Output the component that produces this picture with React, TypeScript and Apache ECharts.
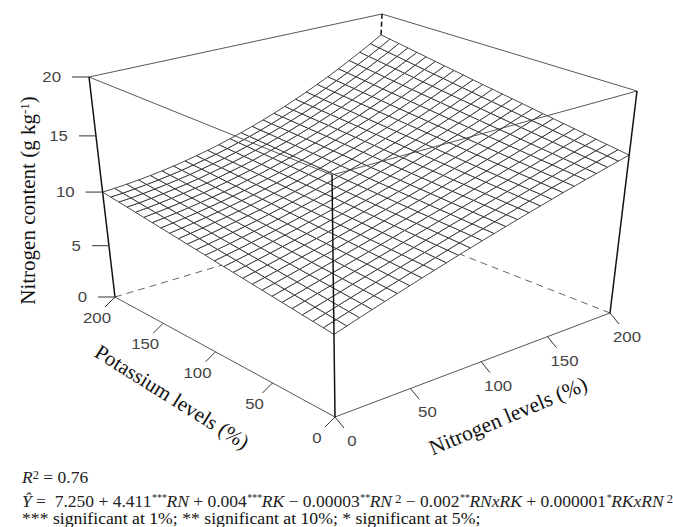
import React, { useEffect, useRef } from "react";
import * as echarts from "echarts";

const N_TICKS = [0, 50, 100, 150, 200];
const K_TICKS = [0, 50, 100, 150, 200];
const Z_TICKS = [0, 5, 10, 15, 20];
const N_LEVELS = [0,8,16,24,32,40,48,56,64,72,80,88,96,104,112,120,128,136,144,152,160,168,176,184,192,200];
const K_LEVELS = [0,8,16,24,32,40,48,56,64,72,80,88,96,104,112,120,128,136,144,152,160,168,176,184,192,200];
// Nitrogen content: one row per nitrogen level, one column per potassium level
const Z_GRID = [
[7.25,7.36,7.47,7.58,7.69,7.80,7.91,8.02,8.13,8.24,8.35,8.46,8.57,8.68,8.79,8.90,9.01,9.12,9.23,9.34,9.45,9.56,9.67,9.78,9.89,10.00],
[7.59,7.69,7.79,7.89,7.99,8.08,8.18,8.28,8.38,8.48,8.58,8.68,8.78,8.87,8.97,9.07,9.17,9.27,9.37,9.47,9.57,9.66,9.76,9.86,9.96,10.06],
[7.93,8.02,8.11,8.20,8.29,8.37,8.46,8.55,8.64,8.73,8.82,8.91,9.00,9.08,9.17,9.26,9.35,9.44,9.53,9.62,9.71,9.79,9.88,9.97,10.06,10.15],
[8.26,8.34,8.42,8.50,8.58,8.66,8.74,8.82,8.90,8.98,9.06,9.14,9.22,9.30,9.38,9.46,9.54,9.62,9.70,9.78,9.86,9.94,10.02,10.10,10.18,10.26],
[8.59,8.66,8.73,8.81,8.88,8.95,9.02,9.09,9.17,9.24,9.31,9.38,9.45,9.53,9.60,9.67,9.74,9.81,9.89,9.96,10.03,10.10,10.17,10.25,10.32,10.39],
[8.91,8.98,9.04,9.11,9.17,9.24,9.30,9.37,9.43,9.50,9.56,9.63,9.69,9.76,9.82,9.89,9.95,10.02,10.08,10.15,10.21,10.28,10.34,10.41,10.47,10.54],
[9.23,9.29,9.35,9.41,9.47,9.53,9.59,9.64,9.70,9.76,9.82,9.88,9.94,10.00,10.06,10.12,10.18,10.24,10.30,10.35,10.41,10.47,10.53,10.59,10.65,10.71],
[9.55,9.60,9.66,9.71,9.77,9.82,9.88,9.93,9.99,10.04,10.09,10.15,10.20,10.26,10.31,10.37,10.42,10.47,10.53,10.58,10.64,10.69,10.75,10.80,10.86,10.91],
[9.86,9.91,9.96,10.01,10.06,10.11,10.16,10.22,10.27,10.32,10.37,10.42,10.47,10.52,10.57,10.62,10.67,10.72,10.77,10.83,10.88,10.93,10.98,11.03,11.08,11.13],
[10.17,10.22,10.27,10.31,10.36,10.41,10.46,10.50,10.55,10.60,10.65,10.69,10.74,10.79,10.84,10.88,10.93,10.98,11.03,11.07,11.12,11.17,11.22,11.26,11.31,11.36],
[10.48,10.53,10.57,10.62,10.66,10.71,10.75,10.80,10.84,10.89,10.94,10.98,11.03,11.07,11.12,11.16,11.21,11.26,11.30,11.35,11.39,11.44,11.48,11.53,11.57,11.62],
[10.78,10.83,10.87,10.92,10.96,11.01,11.05,11.10,11.14,11.19,11.23,11.28,11.32,11.37,11.41,11.46,11.50,11.55,11.59,11.64,11.68,11.73,11.77,11.82,11.86,11.91],
[11.08,11.13,11.17,11.22,11.26,11.31,11.35,11.40,11.44,11.49,11.53,11.58,11.62,11.67,11.71,11.76,11.80,11.85,11.89,11.94,11.98,12.03,12.07,12.12,12.16,12.21],
[11.37,11.42,11.46,11.51,11.56,11.60,11.65,11.70,11.74,11.79,11.84,11.88,11.93,11.98,12.03,12.07,12.12,12.17,12.21,12.26,12.31,12.35,12.40,12.45,12.49,12.54],
[11.66,11.71,11.76,11.81,11.86,11.90,11.95,12.00,12.05,12.10,12.15,12.20,12.25,12.29,12.34,12.39,12.44,12.49,12.54,12.59,12.64,12.68,12.73,12.78,12.83,12.88],
[11.95,12.00,12.05,12.11,12.16,12.21,12.26,12.31,12.37,12.42,12.47,12.52,12.57,12.63,12.68,12.73,12.78,12.83,12.89,12.94,12.99,13.04,13.09,13.15,13.20,13.25],
[12.23,12.29,12.34,12.40,12.46,12.51,12.57,12.62,12.68,12.74,12.79,12.85,12.91,12.96,13.02,13.08,13.13,13.19,13.25,13.30,13.36,13.41,13.47,13.53,13.58,13.64],
[12.51,12.57,12.63,12.70,12.76,12.82,12.88,12.94,13.01,13.07,13.13,13.19,13.25,13.32,13.38,13.44,13.50,13.56,13.63,13.69,13.75,13.81,13.87,13.94,14.00,14.06],
[12.78,12.85,12.92,12.99,13.05,13.12,13.19,13.26,13.33,13.40,13.46,13.53,13.60,13.67,13.74,13.81,13.87,13.94,14.01,14.08,14.15,14.22,14.28,14.35,14.42,14.49],
[13.06,13.14,13.21,13.29,13.36,13.44,13.51,13.59,13.66,13.74,13.82,13.89,13.97,14.04,14.12,14.19,14.27,14.35,14.42,14.50,14.57,14.65,14.72,14.80,14.87,14.95],
[13.32,13.40,13.49,13.57,13.66,13.74,13.82,13.91,13.99,14.08,14.16,14.24,14.33,14.41,14.50,14.58,14.66,14.75,14.83,14.92,15.00,15.08,15.17,15.25,15.34,15.42],
[13.59,13.68,13.78,13.87,13.96,14.06,14.15,14.24,14.34,14.43,14.52,14.62,14.71,14.80,14.89,14.99,15.08,15.17,15.27,15.36,15.45,15.55,15.64,15.73,15.83,15.92],
[13.84,13.94,14.05,14.15,14.26,14.36,14.47,14.57,14.68,14.78,14.88,14.99,15.09,15.20,15.30,15.41,15.51,15.61,15.72,15.82,15.93,16.03,16.14,16.24,16.35,16.45],
[14.10,14.22,14.33,14.45,14.56,14.68,14.79,14.91,15.02,15.14,15.26,15.37,15.49,15.60,15.72,15.83,15.95,16.07,16.18,16.30,16.41,16.53,16.64,16.76,16.87,16.99],
[14.35,14.48,14.61,14.73,14.86,14.99,15.12,15.25,15.37,15.50,15.63,15.76,15.89,16.01,16.14,16.27,16.40,16.53,16.65,16.78,16.91,17.04,17.17,17.29,17.42,17.55],
[14.60,14.74,14.88,15.02,15.17,15.31,15.45,15.59,15.73,15.87,16.02,16.16,16.30,16.44,16.58,16.72,16.87,17.01,17.15,17.29,17.44,17.58,17.72,17.86,18.00,18.14],
];

type P = [number, number];
const BOTTOM: P[] = [[335, 417], [610, 313], [373, 220], [115, 297]];
const TOP: P[] = [[332, 175], [637, 91], [382, 14], [89, 77]];

function quad(q: P[]) {
  const [p0, p1, p2, p3] = q;
  const sx = p0[0] - p1[0] + p2[0] - p3[0], sy = p0[1] - p1[1] + p2[1] - p3[1];
  const dx1 = p1[0] - p2[0], dy1 = p1[1] - p2[1], dx2 = p3[0] - p2[0], dy2 = p3[1] - p2[1];
  const den = dx1 * dy2 - dx2 * dy1;
  const g = (sx * dy2 - dx2 * sy) / den, h = (dx1 * sy - sx * dy1) / den;
  return (u: number, v: number): P => {
    const w = 1 + g * u + h * v;
    return [
      (p0[0] + (p1[0] - p0[0] + g * p1[0]) * u + (p3[0] - p0[0] + h * p3[0]) * v) / w,
      (p0[1] + (p1[1] - p0[1] + g * p1[1]) * u + (p3[1] - p0[1] + h * p3[1]) * v) / w,
    ];
  };
}
const qb = quad(BOTTOM), qt = quad(TOP);
const ZP = 0.912;
function project(n: number, k: number, z: number): P {
  const u = n / 200, v = k / 200, w0 = z / 20;
  const w = (ZP * w0) / (1 + (ZP - 1) * w0);
  const a = qb(u, v), b = qt(u, v);
  return [a[0] + (b[0] - a[0]) * w, a[1] + (b[1] - a[1]) * w];
}

const THIN = "#444", THICK = "#111";
type Edge = [number, number, number, number, number, number, string, number, number[] | null];
const BACK_EDGES: Edge[] = [
  [0, 200, 0, 200, 200, 0, "#555", 0.9, [7, 5]],
  [200, 0, 0, 200, 200, 0, "#555", 0.9, [7, 5]],
];
const FRONT_EDGES: Edge[] = [
  [0, 200, 20, 200, 200, 20, THIN, 0.9, null],
  [200, 0, 20, 200, 200, 20, THIN, 0.9, null],
  [0, 0, 20, 0, 200, 20, THIN, 0.9, null],
  [0, 0, 20, 200, 0, 20, THIN, 0.9, null],
  [0, 0, 0, 0, 200, 0, THIN, 0.9, null],
  [0, 0, 0, 200, 0, 0, THIN, 0.9, null],
  [0, 200, 0, 0, 200, 20, THICK, 1.5, null],
  [0, 0, 0, 0, 0, 20, THICK, 1.5, null],
  [200, 0, 0, 200, 0, 20, THICK, 1.5, null],
  [200, 200, 18.14, 200, 200, 20, THICK, 1.5, [5, 3]],
];

const CELLS: number[][] = [];
for (let i = 0; i < N_LEVELS.length - 1; i++) for (let j = 0; j < K_LEVELS.length - 1; j++) CELLS.push([i, j]);

const edgeSeries = (data: Edge[], z: number) => ({
  type: "custom",
  coordinateSystem: "cartesian2d",
  z,
  silent: true,
  data: data.map((_, i) => [i]),
  renderItem: (params: any, api: any) => {
    const e = data[params.dataIndex];
    const a = api.coord(project(e[0], e[1], e[2]));
    const b = api.coord(project(e[3], e[4], e[5]));
    return {
      type: "line",
      shape: { x1: a[0], y1: a[1], x2: b[0], y2: b[1] },
      style: { stroke: e[6], lineWidth: e[7], lineDash: e[8] || undefined, fill: null },
    };
  },
});

const TICK_COLOR = "#444";
type Tick = { base: P; d: P; l: P; text: string; align: string };
const TICKS: Tick[] = [
  ...Z_TICKS.map((t) => ({ base: project(0, 200, t), d: [-17, 0] as P, l: [-28, 0] as P, text: String(t), align: "right" })),
  ...K_TICKS.map((t) => ({ base: project(0, t, 0), d: [-10, 10] as P, l: [-18, 21] as P, text: String(t), align: "center" })),
  ...N_TICKS.map((t) => ({ base: project(t, 0, 0), d: [9, 11] as P, l: [17, 24] as P, text: String(t), align: "center" })),
];

export default function App() {
  const ref = useRef<HTMLDivElement>(null);
  useEffect(() => {
    const chart = echarts.init(ref.current!, null, { renderer: "svg" });
    const serif = "'Liberation Serif', serif";
    const math = { fontFamily: serif, fontSize: 17.5, lineHeight: 17, fill: "#222", fontStyle: "italic" };
    const up = { fontFamily: serif, fontSize: 17.5, lineHeight: 17, fill: "#222" };
    const sup = { fontFamily: serif, fontSize: 10, fill: "#222", verticalAlign: "top", lineHeight: 17, fontStyle: "italic" };
    const sup2 = { fontFamily: serif, fontSize: 12.5, fill: "#222", verticalAlign: "top", lineHeight: 17 };
    chart.setOption({
      animation: false,
      backgroundColor: "#fff",
      grid: { left: 0, right: 0, top: 0, bottom: 0 },
      xAxis: { type: "value", min: 0, max: 673, show: false },
      yAxis: { type: "value", min: 0, max: 527, inverse: true, show: false },
      series: [
        edgeSeries(BACK_EDGES, 1),
        {
          type: "custom",
          coordinateSystem: "cartesian2d",
          z: 2,
          silent: true,
          data: CELLS,
          renderItem: (params: any, api: any) => {
            const [i, j] = CELLS[params.dataIndex];
            const pts = [[i, j], [i + 1, j], [i + 1, j + 1], [i, j + 1]].map(([a, b]) =>
              api.coord(project(N_LEVELS[a], K_LEVELS[b], Z_GRID[a][b]))
            );
            return {
              type: "polygon",
              shape: { points: pts },
              style: { fill: "#fff", stroke: "#2a2a2a", lineWidth: 0.85 },
            };
          },
        },
        edgeSeries(FRONT_EDGES, 3),
        {
          type: "custom",
          coordinateSystem: "cartesian2d",
          z: 4,
          silent: true,
          data: TICKS.map((_, i) => [i]),
          renderItem: (params: any, api: any) => {
            const t = TICKS[params.dataIndex];
            const a = api.coord(t.base);
            const lx = a[0] + t.l[0], ly = a[1] + t.l[1];
            return {
              type: "group",
              children: [
                { type: "line", shape: { x1: a[0], y1: a[1], x2: a[0] + t.d[0], y2: a[1] + t.d[1] }, style: { stroke: "#333", lineWidth: 1 } },
                {
                  type: "text",
                  x: lx,
                  y: ly,
                  scaleX: 1.2,
                  style: { text: t.text, fill: TICK_COLOR, font: "14px 'Liberation Sans', Arial", textAlign: t.align, textVerticalAlign: "middle" },
                },
              ],
            };
          },
        },
      ],
      graphic: [
        {
          type: "text", x: 28, y: 200.5, rotation: Math.PI / 2, silent: true,
          style: {
            text: "Nitrogen content (g kg{s|-1})",
            textAlign: "center", textVerticalAlign: "middle",
            font: "21px 'Liberation Serif'", fill: "#111",
            rich: { s: { fontSize: 13, fontFamily: "Liberation Serif", verticalAlign: "top", lineHeight: 21, fill: "#111" } },
          },
        },
        { type: "text", x: 172, y: 397, rotation: -0.56, silent: true, style: { text: "Potassium levels (%)", textAlign: "center", textVerticalAlign: "middle", font: "21px 'Liberation Serif'", fill: "#111" } },
        { type: "text", x: 508, y: 416, rotation: 0.4, silent: true, style: { text: "Nitrogen levels (%)", textAlign: "center", textVerticalAlign: "middle", font: "21.5px 'Liberation Serif'", fill: "#111" } },
        {
          type: "text", x: 22, y: 477, silent: true,
          style: { text: "{i|R}{u|2}{r| = 0.76}", textVerticalAlign: "middle", rich: { i: math, r: up, u: sup2 } },
        },
        {
          type: "text", x: 22, y: 500.5, silent: true,
          style: {
            text: "{i|Ŷ}{r| =  7.250 + 4.411}{s|***}{i|RN}{r| + 0.004}{s|***}{i|RK}{r| − 0.00003}{s|**}{i|RN}{u| 2}{r| − 0.002}{s|**}{i|RNxRK}{r| + 0.000001}{s|*}{i|RKxRN}{u| 2}",
            textVerticalAlign: "middle",
            rich: { i: math, r: up, s: sup, u: sup2 },
          },
        },
        { type: "text", x: 22, y: 518, silent: true, style: { text: "*** significant at 1%; ** significant at 10%; * significant at 5%;", textVerticalAlign: "middle", font: "17.7px 'Liberation Serif'", lineHeight: 17, fill: "#111" } },
      ],
    });
    return () => chart.dispose();
  }, []);
  return <div ref={ref} style={{ position: "absolute", left: 0, top: 0, width: 673, height: 527 }} />;
}
